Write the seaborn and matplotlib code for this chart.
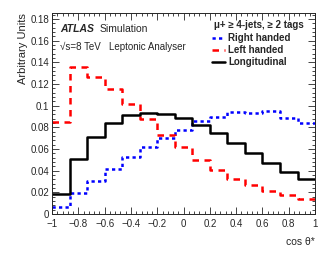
import numpy as np
import pandas as pd
import seaborn as sns
import matplotlib.pyplot as plt
from matplotlib.lines import Line2D
from matplotlib.ticker import MultipleLocator

# 15 bins in cos theta*
bin_edges = np.linspace(-1, 1, 16)

right_handed = [0.0061, 0.0197, 0.0307, 0.0420, 0.0525, 0.0617, 0.0703, 0.0780,
                0.0857, 0.0900, 0.0940, 0.0937, 0.0949, 0.0888, 0.0842]
left_handed = [0.0848, 0.1355, 0.1269, 0.1158, 0.1020, 0.0878, 0.0734, 0.0617,
               0.0500, 0.0409, 0.0326, 0.0267, 0.0215, 0.0172, 0.0138]
longitudinal = [0.0184, 0.0507, 0.0713, 0.0842, 0.0912, 0.0934, 0.0925, 0.0885,
                0.0823, 0.0746, 0.0657, 0.0562, 0.0476, 0.0390, 0.0326]

series = {"Right handed": right_handed, "Left handed": left_handed, "Longitudinal": longitudinal}
colors = {"Right handed": "#0000ff", "Left handed": "#ff0000", "Longitudinal": "#000000"}
dash_styles = {"Right handed": (1.3, 1.3), "Left handed": (2.6, 2.2), "Longitudinal": ""}
lw = 1.8

rows = []
for name, vals in series.items():
    # steps-post needs the last value repeated at the upper edge
    for x, y in zip(bin_edges, list(vals) + [vals[-1]]):
        rows.append({"cos": x, "value": y, "series": name})
df = pd.DataFrame(rows)

sns.set_style("ticks")
plt.rcParams['font.family'] = ['Liberation Sans', 'DejaVu Sans']

fig = plt.figure(figsize=(3.32, 2.57), dpi=100)
ax = fig.add_axes([0.157, 0.167, 0.792, 0.782])

sns.lineplot(data=df, x="cos", y="value", hue="series", style="series",
             palette=colors, dashes=dash_styles, drawstyle="steps-post",
             linewidth=lw, legend=False, ax=ax, estimator=None)

ax.set_xlim(-1, 1)
ax.set_ylim(0, 0.1855)
ax.xaxis.set_minor_locator(MultipleLocator(0.04))
ax.yaxis.set_minor_locator(MultipleLocator(0.004))
ax.set_xticks(np.round(np.arange(-1, 1.01, 0.2), 1))
ax.set_xticklabels(["\u22121", "\u22120.8", "\u22120.6", "\u22120.4", "\u22120.2", "0",
                    "0.2", "0.4", "0.6", "0.8", "1"])
ax.set_yticks(np.round(np.arange(0, 0.181, 0.02), 2))
ax.set_yticklabels(["0", "0.02", "0.04", "0.06", "0.08", "0.1", "0.12", "0.14", "0.16", "0.18"])
ax.tick_params(which="both", direction="in", top=True, right=True, labelsize=7, width=0.6, pad=2)
ax.tick_params(axis="x", pad=3.5)
ax.tick_params(which="major", length=5)
ax.tick_params(which="minor", length=2.5)
for s in ax.spines.values():
    s.set_linewidth(0.7)

ax.set_xlabel("cos \u03b8*", fontsize=7.5, loc="right", labelpad=6)
ax.set_ylabel("Arbitrary Units", fontsize=8, loc="top", labelpad=2)

ax.text(0.03, 0.905, "ATLAS", transform=ax.transAxes, fontsize=7.5,
        fontweight="bold", style="italic")
ax.text(0.179, 0.905, "Simulation", transform=ax.transAxes, fontsize=7.5)
ax.text(0.03, 0.815, "\u221as=8 TeV   Leptonic Analyser", transform=ax.transAxes, fontsize=7)
ax.text(0.616, 0.925, "\u03bc+ \u2265 4-jets, \u2265 2 tags", transform=ax.transAxes,
        fontsize=7, fontweight="bold")

handles = [Line2D([], [], color=colors[n], linewidth=lw,
                  dashes=dash_styles[n] if dash_styles[n] else (None, None), label=n)
           for n in series]
ax.legend(handles=handles, loc="upper left", bbox_to_anchor=(0.595, 0.92),
          frameon=False, handlelength=1.3, handletextpad=0.3, labelspacing=0.2,
          prop={"size": 7, "weight": "bold"}, borderaxespad=0)

fig.savefig("out.png", dpi=100)
